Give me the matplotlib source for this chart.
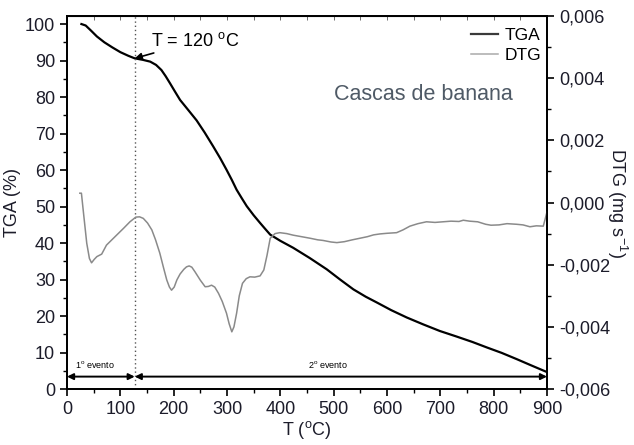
import numpy as np
import matplotlib.pyplot as plt
from matplotlib.ticker import MultipleLocator, FuncFormatter

plt.rcParams['font.family'] = ['Liberation Sans', 'DejaVu Sans']
plt.rcParams['mathtext.fontset'] = 'custom'
plt.rcParams['mathtext.rm'] = 'Liberation Sans'

# TGA curve (T in C, mass %)
tga_t = [27, 35, 45, 56, 70, 85, 100, 115, 127, 142, 156, 167, 177, 185, 193, 202,
         212, 227, 243, 258, 274, 287, 299, 309, 318, 328, 337, 350, 362, 372, 381,
         400, 424, 455, 487, 512, 537, 560, 581, 608, 637, 668, 699, 730, 760, 787,
         815, 843, 870, 899]
tga_v = [100, 99.6, 98.2, 96.6, 95.0, 93.6, 92.3, 91.3, 90.6, 90.2, 89.7, 88.8, 87.4,
         85.7, 83.8, 81.6, 79.2, 76.5, 73.6, 70.3, 66.5, 63.3, 60.1, 57.3, 54.6, 52.2,
         50.1, 47.6, 45.5, 43.8, 42.3, 40.6, 38.7, 35.9, 32.8, 30.0, 27.3, 25.3, 23.7,
         21.6, 19.6, 17.7, 15.9, 14.4, 12.9, 11.4, 9.9, 8.2, 6.5, 4.7]

# DTG curve (T in C, mg s^-1)
dtg_t = [24, 27, 31, 37, 42, 46, 51, 56, 65, 74, 87, 106, 118, 129, 136, 143, 151,
         159, 166, 174, 181, 187, 192, 196, 201, 206, 212, 219, 224, 229, 234, 240,
         250, 259, 265, 271, 277, 284, 291, 299, 304, 309, 313, 318, 323, 329, 336,
         343, 352, 362, 369, 375, 381, 390, 399, 412, 424, 440, 456, 470, 480, 495,
         506, 520, 535, 549, 563, 575, 587, 600, 618, 630, 643, 658, 674, 690, 705,
         720, 735, 743, 755, 770, 785, 795, 810, 825, 843, 855, 868, 880, 893, 897,
         900]
dtg_v = [0.00030, 0.00030, -0.00035, -0.00131, -0.00180, -0.00194, -0.00183, -0.00174,
         -0.00166, -0.00137, -0.00115, -0.00083, -0.00062, -0.00047, -0.00046,
         -0.00051, -0.00066, -0.00088, -0.00120, -0.00163, -0.00210, -0.00249,
         -0.00272, -0.00282, -0.00272, -0.00249, -0.00230, -0.00215, -0.00207,
         -0.00204, -0.00208, -0.00223, -0.00250, -0.00271, -0.00270, -0.00266,
         -0.00272, -0.00292, -0.00318, -0.00356, -0.00390, -0.00416, -0.00400,
         -0.00356, -0.00300, -0.00260, -0.00245, -0.00239, -0.00240, -0.00236,
         -0.00217, -0.00170, -0.00115, -0.00100, -0.00097, -0.00100, -0.00105,
         -0.00110, -0.00115, -0.00120, -0.00122, -0.00127, -0.00129, -0.00126,
         -0.00120, -0.00115, -0.00110, -0.00104, -0.00101, -0.00099, -0.00097,
         -0.00088, -0.00076, -0.00068, -0.00062, -0.00064, -0.00062, -0.00060,
         -0.00061, -0.00057, -0.00060, -0.00062, -0.00070, -0.00073, -0.00072,
         -0.00068, -0.00070, -0.00072, -0.00078, -0.00075, -0.00076, -0.00050,
         -0.00030]

t_event = 127
tick_col = '#1c1c2a'

fig = plt.figure(figsize=(6.34, 4.45), dpi=100)
ax = fig.add_axes([0.1057, 0.1258, 0.7571, 0.8382])
ax2 = ax.twinx()

l1, = ax.plot(tga_t, tga_v, color='black', lw=1.6, label='TGA')
l2, = ax2.plot(dtg_t, dtg_v, color='#8a8a8a', lw=1.1, label='DTG')

ax.set_xlim(0, 900)
ax.set_ylim(0, 102.2)
ax2.set_ylim(-0.006, 0.006)

ax.xaxis.set_major_locator(MultipleLocator(100))
ax.xaxis.set_minor_locator(MultipleLocator(50))
ax.yaxis.set_major_locator(MultipleLocator(10))
ax.yaxis.set_minor_locator(MultipleLocator(5))
ax2.yaxis.set_major_locator(MultipleLocator(0.002))
ax2.yaxis.set_minor_locator(MultipleLocator(0.001))
ax2.yaxis.set_major_formatter(FuncFormatter(lambda v, p: ('%.3f' % v).replace('.', ',').replace('-0,000', '0,000')))

for a in (ax, ax2):
    a.tick_params(which='major', direction='out', length=5, width=1.2, labelsize=13,
                  colors='black', labelcolor=tick_col)
    a.tick_params(which='minor', direction='out', length=3, width=1.0)
    for s in a.spines.values():
        s.set_linewidth(1.3)

top = ax.secondary_xaxis('top')
top.xaxis.set_major_locator(MultipleLocator(50))
top.tick_params(direction='in', length=3, width=0.6, colors='#555555', labeltop=False)

ax.set_xlabel('T ($^{\\mathrm{o}}$C)', fontsize=13, labelpad=1, color=tick_col)
ax.set_ylabel('TGA (%)', fontsize=13, labelpad=3, color=tick_col)
ax2.set_ylabel('DTG (mg s$^{-1}$)', fontsize=13, rotation=270, labelpad=14, color=tick_col)

# event marker
ax.axvline(t_event, color='#555555', lw=1.0, ls=(0, (1, 2)))
ax.annotate('T = 120 $^{\\mathrm{o}}$C', xy=(t_event, 90.6), xytext=(158, 95.3), fontsize=13,
            va='center', ha='left',
            arrowprops=dict(arrowstyle='-|>', color='black', lw=1.2, mutation_scale=10,
                            shrinkA=0, shrinkB=0))

ax.annotate('', xy=(0, 3.4), xytext=(t_event, 3.4),
            arrowprops=dict(arrowstyle='<|-|>', color='black', lw=1.4, mutation_scale=9,
                            shrinkA=0, shrinkB=0))
ax.annotate('', xy=(t_event, 3.4), xytext=(900, 3.4),
            arrowprops=dict(arrowstyle='<|-|>', color='black', lw=1.4, mutation_scale=9,
                            shrinkA=0, shrinkB=0))
ax.text(15, 6.8, '1$^{\\mathrm{o}}$ evento', fontsize=6.5, va='center', ha='left')
ax.text(452, 6.8, '2$^{\\mathrm{o}}$ evento', fontsize=6.5, va='center', ha='left')

ax.text(669, 80.6, 'Cascas de banana', fontsize=15.5, color='#4f5a66', ha='center', va='center')

leg = ax.legend(handles=[l1, l2], loc='upper right', frameon=False, fontsize=12.5,
                handlelength=1.6, handletextpad=0.35, labelspacing=0.3,
                bbox_to_anchor=(1.02, 1.01))
leg.get_lines()[0].set_color('#3a3a3a')
leg.get_lines()[1].set_color('#aaaaaa')

fig.savefig('out.png', dpi=100)
